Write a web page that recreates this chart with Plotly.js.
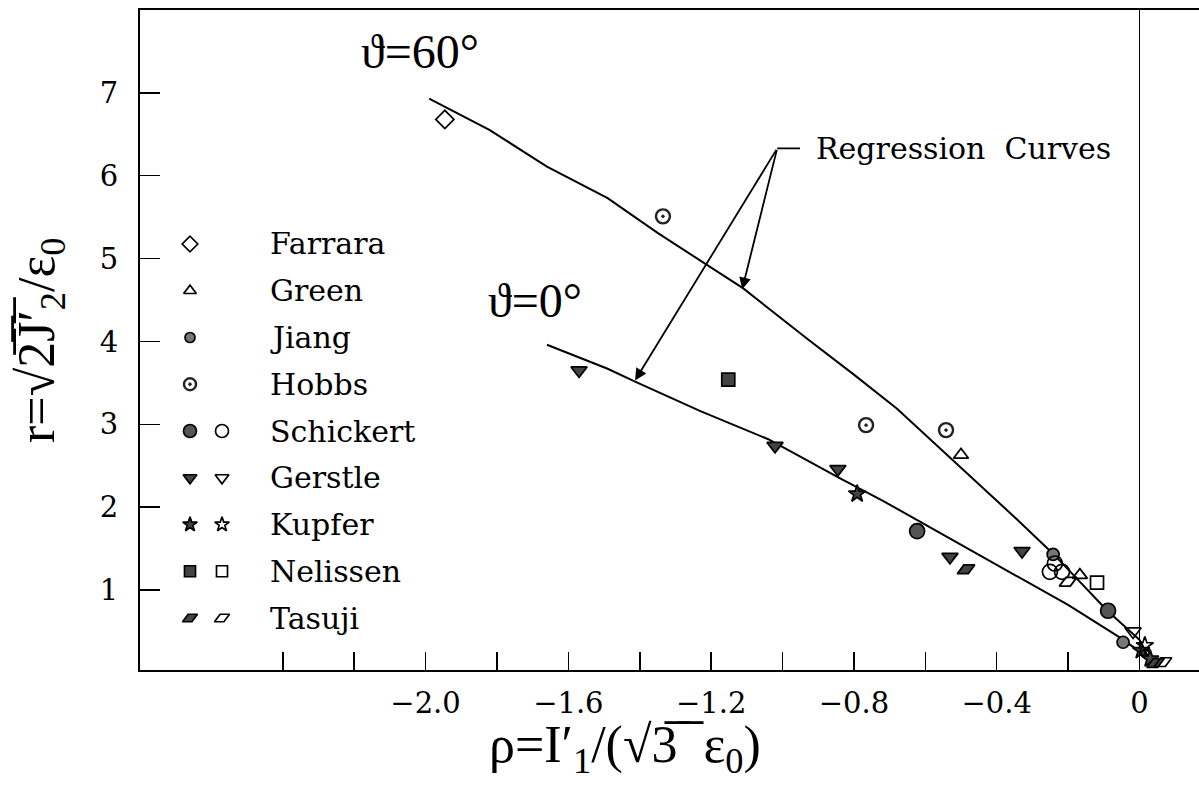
<!DOCTYPE html>
<html>
<head>
<meta charset="utf-8">
<script src="https://cdn.plot.ly/plotly-3.0.1.min.js"></script>
<style>
  body { margin: 0; background: #fff; }
  #myDiv { width: 1199px; height: 786px; }
</style>
</head>
<body>
<div id="myDiv"></div>
<script>
// regression curves
var curve60X = [-1.99, -1.82, -1.66, -1.49, -1.35, -1.21, -1.11, -0.93, -0.80, -0.68, -0.39, -0.34, -0.24, -0.09, 0.0, 0.03];
var curve60Y = [6.93, 6.55, 6.11, 5.73, 5.31, 4.92, 4.64, 4.03, 3.60, 3.19, 2.04, 1.84, 1.43, 0.75, 0.40, 0.14];
var curve0X = [-1.66, -1.49, -1.41, -1.23, -1.04, -0.84, -0.72, -0.61, -0.39, -0.20, -0.06, 0.03];
var curve0Y = [3.96, 3.67, 3.51, 3.16, 2.82, 2.35, 2.08, 1.81, 1.28, 0.82, 0.44, 0.17];

// test data
var farraraX = [-1.946];
var farraraY = [6.68];
var greenX = [-0.500, -0.167];
var greenY = [2.63, 1.18];
var jiangX = [-0.242, -0.046];
var jiangY = [1.43, 0.37];
var hobbsX = [-1.335, -0.766, -0.542];
var hobbsY = [5.51, 2.99, 2.93];
var schickertX = [-0.623, -0.088];
var schickertY = [1.71, 0.75];
var schickertOpenX = [-0.251, -0.217, -0.237];
var schickertOpenY = [1.22, 1.22, 1.32];
var gerstleX = [-1.570, -1.021, -0.845, -0.531, -0.329];
var gerstleY = [3.65, 2.74, 2.46, 1.40, 1.47];
var gerstleOpenX = [-0.018];
var gerstleOpenY = [0.50];
var kupferX = [-0.791, 0.005, 0.03];
var kupferY = [2.16, 0.27, 0.17];
var kupferOpenX = [0.015];
var kupferOpenY = [0.33];
var nelissenX = [-1.152];
var nelissenY = [3.54];
var nelissenOpenX = [-0.119];
var nelissenOpenY = [1.09];
var tasujiX = [-0.486, 0.045];
var tasujiY = [1.25, 0.12];
var tasujiOpenX = [-0.200, 0.066];
var tasujiOpenY = [1.10, 0.13];

var xTickVals = [-2.0, -1.6, -1.2, -0.8, -0.4, 0];
var xTickText = ['\u22122.0', '\u22121.6', '\u22121.2', '\u22120.8', '\u22120.4', '0'];
var xMinorTickVals = [-2.4, -2.2, -1.8, -1.4, -1.0, -0.6, -0.2];
var yTickVals = [1, 2, 3, 4, 5, 6, 7];
var yTickText = ['1', '2', '3', '4', '5', '6', '7'];

var legendNames = ['Farrara', 'Green', 'Jiang', 'Hobbs', 'Schickert', 'Gerstle', 'Kupfer', 'Nelissen', 'Tasuji'];

var dark = '#444';
var serif = 'DejaVu Serif, Liberation Serif, serif';
var mathFont = 'Liberation Serif, DejaVu Serif, serif';
var rhombusTilt = -26.57;
var bar = '\u0305'; // combining overline for the root signs

// marker styles per series: filled first, open second
var styles = {
  Farrara: [{symbol: 'diamond-open', size: 14}],
  Green: [{symbol: 'triangle-up-open', size: 13}],
  Jiang: [{symbol: 'circle', size: 12, color: '#777'}],
  Hobbs: [{symbol: 'circle-open-dot', size: 14, color: '#222', lw: 2.4}],
  Schickert: [{symbol: 'circle', size: 15, color: '#555'}, {symbol: 'circle-open', size: 15}],
  Gerstle: [{symbol: 'triangle-down', size: 14, color: dark}, {symbol: 'triangle-down-open', size: 14}],
  Kupfer: [{symbol: 'star', size: 13, color: dark}, {symbol: 'star-open', size: 13}],
  Nelissen: [{symbol: 'square', size: 13, color: dark}, {symbol: 'square-open', size: 13}],
  Tasuji: [{symbol: 'diamond-wide', size: 14, color: dark, angle: rhombusTilt},
           {symbol: 'diamond-wide-open', size: 14, angle: rhombusTilt}]
};

var seriesData = {
  Farrara: [[farraraX, farraraY]],
  Green: [[greenX, greenY]],
  Jiang: [[jiangX, jiangY]],
  Hobbs: [[hobbsX, hobbsY]],
  Schickert: [[schickertX, schickertY], [schickertOpenX, schickertOpenY]],
  Gerstle: [[gerstleX, gerstleY], [gerstleOpenX, gerstleOpenY]],
  Kupfer: [[kupferX, kupferY], [kupferOpenX, kupferOpenY]],
  Nelissen: [[nelissenX, nelissenY], [nelissenOpenX, nelissenOpenY]],
  Tasuji: [[tasujiX, tasujiY], [tasujiOpenX, tasujiOpenY]]
};

function makeMarker(s) {
  return {
    symbol: s.symbol,
    size: s.size,
    color: s.color || 'black',
    angle: s.angle || 0,
    line: {color: 'black', width: s.lw || 1.7}
  };
}

// plot area in pixels, used to place the hand-made legend and labels
var plotL = 140, plotR = 1199, plotT = 10, plotB = 670;
function px(x) { return (x - plotL) / (plotR - plotL); }
function py(y) { return (plotB - y) / (plotB - plotT); }

function label(x, y, text, font, extra) {
  var a = {xref: 'paper', yref: 'paper', x: px(x), y: py(y), text: text, showarrow: false,
    xanchor: 'center', yanchor: 'middle', font: font};
  for (var k in extra) a[k] = extra[k];
  return a;
}

var data = [
  {x: curve60X, y: curve60Y, mode: 'lines', line: {color: 'black', width: 2}, hoverinfo: 'skip'},
  {x: curve0X, y: curve0Y, mode: 'lines', line: {color: 'black', width: 2}, hoverinfo: 'skip'}
];

var annotations = [];

var legendTop = 244, legendStep = 46.75;
legendNames.forEach(function (name, i) {
  var st = styles[name];
  seriesData[name].forEach(function (pair, k) {
    data.push({x: pair[0], y: pair[1], mode: 'markers', name: name,
      marker: makeMarker(st[k]), cliponaxis: false});
  });
  var rowY = legendTop + i * legendStep;
  st.forEach(function (s, k) {
    var m = makeMarker(s);
    m.size = Math.round(s.size * 0.85);
    data.push({x: [190 + k * 32], y: [rowY], xaxis: 'x2', yaxis: 'y2', mode: 'markers',
      marker: m, hoverinfo: 'skip'});
  });
  annotations.push(label(268, rowY, name, {family: serif, size: 30, color: 'black'}, {xanchor: 'left'}));
});

// curve labels
var bigMath = {family: mathFont, size: 48, color: 'black'};
annotations.push(label(420, 52, '\u03d1=60\u00b0', bigMath));
annotations.push(label(535, 300, '\u03d1=0\u00b0', bigMath));

// regression curves pointer
var hubX = -1.015, hubY = 6.33;
annotations.push({xref: 'x', yref: 'y', x: -0.912, y: hubY, xanchor: 'left', yanchor: 'middle',
  text: 'Regression\u00a0\u00a0Curves', showarrow: false, font: {family: serif, size: 30, color: 'black'}});
[[-1.113, 4.63], [-1.413, 3.53]].forEach(function (tip) {
  annotations.push({xref: 'x', yref: 'y', x: tip[0], y: tip[1], axref: 'x', ayref: 'y', ax: hubX, ay: hubY,
    text: '', showarrow: true, arrowhead: 2, arrowsize: 1.3, arrowwidth: 1.8, arrowcolor: 'black', standoff: 0});
});

// axis titles
var titleFont = {family: mathFont, size: 52, color: 'black'};
annotations.push(label(625, 748,
  '\u03c1=I\u2032<sub>1</sub>/(\u221a3' + bar + '\u00a0' + bar + '\u00a0\u03b5<sub>0</sub>)',
  titleFont));
annotations.push(label(40, 340,
  'r=\u221a2' + bar + 'J' + bar + '\u2032' + bar + '<sub>2</sub>/\u03b5<sub>0</sub>',
  titleFont, {textangle: -90}));

var layout = {
  width: 1199,
  height: 786,
  margin: {l: 140, r: 0, t: 10, b: 116, pad: 0},
  showlegend: false,
  paper_bgcolor: 'white',
  plot_bgcolor: 'white',
  xaxis: {
    range: [-2.8, 0.1667],
    tickvals: xTickVals,
    ticktext: xTickText,
    ticks: 'inside',
    ticklen: 18,
    tickwidth: 1.5,
    tickcolor: 'black',
    minor: {tickmode: 'array', tickvals: xMinorTickVals, ticks: 'inside', ticklen: 18,
      tickwidth: 1.5, tickcolor: 'black', showgrid: false},
    ticklabelstandoff: 6,
    showline: true,
    linewidth: 2,
    linecolor: 'black',
    mirror: true,
    showgrid: false,
    zeroline: true,
    zerolinecolor: 'black',
    zerolinewidth: 1.5,
    tickfont: {family: serif, size: 29, color: 'black'}
  },
  yaxis: {
    range: [0.035, 8.0],
    tickvals: yTickVals,
    ticktext: yTickText,
    ticks: 'inside',
    ticklen: 20,
    tickwidth: 1.5,
    tickcolor: 'black',
    ticklabelstandoff: 14,
    showline: true,
    linewidth: 2,
    linecolor: 'black',
    showgrid: false,
    zeroline: false,
    tickfont: {family: serif, size: 29, color: 'black'}
  },
  xaxis2: {overlaying: 'x', range: [plotL, plotR], visible: false, fixedrange: true},
  yaxis2: {overlaying: 'y', range: [plotB, plotT], visible: false, fixedrange: true},
  shapes: [
    {type: 'line', xref: 'x', yref: 'y', x0: hubX, y0: hubY, x1: -0.951, y1: hubY,
      line: {color: 'black', width: 1.8}}
  ],
  annotations: annotations
};

Plotly.newPlot('myDiv', data, layout, {displayModeBar: false, staticPlot: true});
</script>
</body>
</html>
